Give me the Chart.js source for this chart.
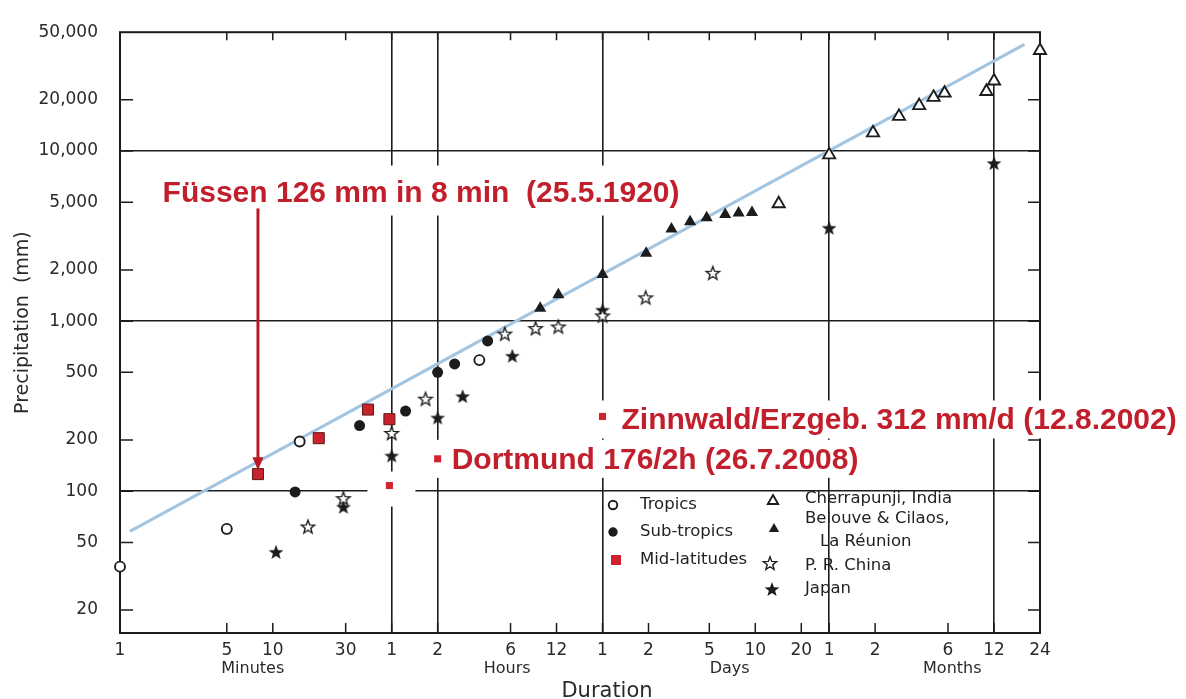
<!DOCTYPE html>
<html>
<head>
<meta charset="utf-8">
<title>World record precipitation by duration</title>
<script src="https://cdn.jsdelivr.net/npm/chart.js@4.4.1/dist/chart.umd.min.js"></script>
<style>
  html, body { margin: 0; padding: 0; background: #fff; }
  #chart { display: block; }
</style>
</head>
<body>
<canvas id="chart" width="1186" height="699"></canvas>
<script>
// durations are in minutes, amounts in mm
const HOUR = 60;
const DAY = 1440;
const MONTH = 43830;

const tropicsDuration = [1, 5, 15, 225];
const tropicsAmount = [36, 60, 196, 590];

const subtropicsDuration = [14, 37, 74, 2 * HOUR, 155, 255];
const subtropicsAmount = [99, 243, 296, 500, 560, 765];

const midlatDuration = [8, 20, 42, 58];
const midlatAmount = [126, 205, 302, 265];

// added German records (small squares)
const germanDuration = [58, 2 * HOUR, DAY];
const germanAmount = [108, 155, 275];

const cherrapunjiDuration = [20500, MONTH, 84900, 125600, 170200, 211500, 249700, 469000, 12 * MONTH, 24 * MONTH];
const cherrapunjiAmount = [4900, 9500, 12800, 16000, 18500, 20700, 21900, 22400, 25800, 39000];

const reunionDuration = [563, 740, DAY, 2780, 4070, 5390, 6920, 9150, 11200, 13700];
const reunionAmount = [1190, 1430, 1880, 2510, 3480, 3840, 4050, 4240, 4330, 4350];

const chinaDuration = [17, 29, 60, 100, 330, 525, 740, DAY, 2760, 7590];
const chinaAmount = [62, 91, 220, 350, 845, 910, 930, 1080, 1380, 1925];

const japanDuration = [10.5, 29, 60, 2 * HOUR, 175, 370, DAY, MONTH, 12 * MONTH];
const japanAmount = [44, 81, 162, 271, 362, 626, 1167, 3540, 8500];

const envelopeDuration = [1.16, 831800];
const envelopeAmount = [58, 42400];

const xTickValues = [1, 5, 10, 30, HOUR, 2 * HOUR, 6 * HOUR, 12 * HOUR, DAY, 2 * DAY, 5 * DAY, 10 * DAY, 20 * DAY, MONTH, 2 * MONTH, 6 * MONTH, 12 * MONTH, 24 * MONTH];
const xTickLabels = ["1", "5", "10", "30", "1", "2", "6", "12", "1", "2", "5", "10", "20", "1", "2", "6", "12", "24"];
const xGridValues = [HOUR, 2 * HOUR, DAY, MONTH, 12 * MONTH];
const unitLabels = ["Minutes", "Hours", "Days", "Months"];
const unitPositions = [7.4, 5.7 * HOUR, 6.8 * DAY, 6.4 * MONTH];

const yTickValues = [20, 50, 100, 200, 500, 1000, 2000, 5000, 10000, 20000, 50000];
const yTickLabels = ["20", "50", "100", "200", "500", "1,000", "2,000", "5,000", "10,000", "20,000", "50,000"];
const yGridValues = [100, 1000, 10000];

const fuessenNote = { text: "Füssen 126 mm in 8 min  (25.5.1920)", x: 1.9, y: 5050 };
const arrowFrom = { x: 8, y: 4600 };
const arrowTo = { x: 8, y: 133 };
const pointNotes = [
  { text: "Dortmund 176/2h (26.7.2008)", point: 1, dx: 14, dy: 10 },
  { text: "Zinnwald/Erzgeb. 312 mm/d (12.8.2002)", point: 2, dx: 19, dy: 13 },
];

const INK = "#1c1c1c";
const NOTE_RED = "#c21f2d";
const NOTE_FONT = "bold 30px 'Liberation Sans', Arial, sans-serif";
const GERMAN_INDEX = 4;

Chart.defaults.font.family = "'DejaVu Sans', sans-serif";
Chart.defaults.color = "#2a2a2a";

function toPoints(xs, ys) {
  return xs.map((x, i) => ({ x, y: ys[i] }));
}

function makeStar(radius, filled) {
  const size = Math.ceil(radius * 2 + 4);
  const canvas = document.createElement("canvas");
  canvas.width = size;
  canvas.height = size;
  const g = canvas.getContext("2d");
  const c = size / 2;
  g.beginPath();
  for (let i = 0; i < 10; i++) {
    const r = i % 2 === 0 ? radius : radius * 0.42;
    const a = -Math.PI / 2 + (i * Math.PI) / 5;
    const px = c + r * Math.cos(a);
    const py = c + 0.8 + r * Math.sin(a);
    if (i === 0) g.moveTo(px, py); else g.lineTo(px, py);
  }
  g.closePath();
  if (filled) {
    g.fillStyle = INK;
    g.fill();
  } else {
    g.fillStyle = "#fff";
    g.fill();
    g.lineWidth = 1.4;
    g.strokeStyle = INK;
    g.stroke();
  }
  return canvas;
}

const openStar = makeStar(7, false);
const solidStar = makeStar(7.8, true);

function marker(style, radius, fill, border, borderWidth) {
  return {
    pointStyle: style,
    pointRadius: radius,
    pointBackgroundColor: fill,
    pointBorderColor: border,
    pointBorderWidth: borderWidth,
    showLine: false,
    clip: false,
    order: 0,
  };
}

const datasets = [
  {
    label: "Envelope",
    data: toPoints(envelopeDuration, envelopeAmount),
    showLine: true,
    borderColor: "#a2c5e1",
    borderWidth: 3,
    pointRadius: 0,
    order: 1,
  },
  { label: "Tropics", data: toPoints(tropicsDuration, tropicsAmount), ...marker("circle", 5, "#fff", INK, 1.9) },
  { label: "Sub-tropics", data: toPoints(subtropicsDuration, subtropicsAmount), ...marker("circle", 5.5, INK, INK, 0) },
  { label: "Mid-latitudes", data: toPoints(midlatDuration, midlatAmount), ...marker("rect", 7.8, "#c8232c", "#5a1616", 1) },
  { label: "Germany", data: toPoints(germanDuration, germanAmount), ...marker("rect", 5, "#d3222d", "#d3222d", 0) },
  { label: "Cherrapunji, India", data: toPoints(cherrapunjiDuration, cherrapunjiAmount), ...marker("triangle", 7, "#fff", INK, 1.9) },
  { label: "Belouve & Cilaos,|La Réunion", data: toPoints(reunionDuration, reunionAmount), ...marker("triangle", 7, INK, INK, 0) },
  { label: "P. R. China", data: toPoints(chinaDuration, chinaAmount), ...marker(openStar, 7, "#fff", INK, 0) },
  { label: "Japan", data: toPoints(japanDuration, japanAmount), ...marker(solidStar, 8, INK, INK, 0) },
];

// legend: [dataset index, marker x, marker y, text x, text y]
const legendRows = [
  [1, 613, 505, 640, 505],
  [2, 613, 532, 640, 532],
  [3, 616, 560, 640, 560],
  [5, 773, 501, 805, 499],
  [6, 774, 529, 805, 519],
  [7, 770, 563, 805, 566],
  [8, 772, 589, 805, 589],
];

function noteLayout(chart) {
  const { ctx, scales } = chart;
  const german = chart.getDatasetMeta(GERMAN_INDEX).data;
  ctx.save();
  ctx.font = NOTE_FONT;
  const items = [];
  const fx = scales.x.getPixelForValue(fuessenNote.x);
  const fy = scales.y.getPixelForValue(fuessenNote.y);
  const fw = ctx.measureText(fuessenNote.text).width;
  items.push({ text: fuessenNote.text, x: fx, y: fy, box: [fx - 6, fy - 36, fx + fw + 8, fy + 14] });
  pointNotes.forEach((note) => {
    const p = german[note.point];
    const tx = p.x + note.dx;
    const ty = p.y + note.dy;
    const w = ctx.measureText(note.text).width;
    items.push({ text: note.text, x: tx, y: ty, box: [p.x - 10, ty - 29, tx + w + 8, ty + 9] });
  });
  const h = german[0];
  items.push({ text: "", box: [h.x - 22, h.y - 14, h.x + 26, h.y + 21] });
  ctx.restore();
  return items;
}

const paperPlugin = {
  id: "paper",
  beforeDatasetsDraw(chart) {
    const { ctx, chartArea: area, scales } = chart;
    ctx.save();
    ctx.strokeStyle = INK;
    ctx.lineWidth = 2;
    ctx.strokeRect(area.left, area.top, area.right - area.left, area.bottom - area.top);
    ctx.lineWidth = 1.5;
    ctx.beginPath();
    xTickValues.slice(1, -1).forEach((v) => {
      const px = scales.x.getPixelForValue(v);
      ctx.moveTo(px, area.bottom);
      ctx.lineTo(px, area.bottom - 10);
      ctx.moveTo(px, area.top);
      ctx.lineTo(px, area.top + 8);
    });
    yTickValues.slice(0, -1).forEach((v) => {
      const py = scales.y.getPixelForValue(v);
      ctx.moveTo(area.left, py);
      ctx.lineTo(area.left + 13, py);
      ctx.moveTo(area.right, py);
      ctx.lineTo(area.right - 12, py);
    });
    ctx.stroke();

    // paper cut-outs behind the added red labels
    ctx.fillStyle = "#fff";
    noteLayout(chart).forEach((item) => {
      const [l, t, r, b] = item.box;
      ctx.fillRect(l, t, r - l, b - t);
    });
    ctx.restore();
  },
  afterDatasetsDraw(chart) {
    const { ctx, chartArea: area, scales } = chart;
    ctx.save();

    // red annotations
    ctx.font = NOTE_FONT;
    ctx.fillStyle = NOTE_RED;
    ctx.textBaseline = "alphabetic";
    ctx.textAlign = "left";
    noteLayout(chart).forEach((item) => {
      if (item.text) ctx.fillText(item.text, item.x, item.y);
    });

    const ax = scales.x.getPixelForValue(arrowFrom.x);
    const ay = scales.y.getPixelForValue(arrowFrom.y);
    const tip = scales.y.getPixelForValue(arrowTo.y);
    ctx.strokeStyle = "#b81a24";
    ctx.fillStyle = "#b81a24";
    ctx.lineWidth = 3;
    ctx.beginPath();
    ctx.moveTo(ax, ay);
    ctx.lineTo(ax, tip - 10);
    ctx.stroke();
    ctx.beginPath();
    ctx.moveTo(ax, tip);
    ctx.lineTo(ax - 5.5, tip - 13);
    ctx.lineTo(ax + 5.5, tip - 13);
    ctx.closePath();
    ctx.fill();

    // legend
    ctx.font = "16.5px 'DejaVu Sans', sans-serif";
    ctx.textBaseline = "middle";
    legendRows.forEach(([index, mx, my, tx, ty]) => {
      const ds = chart.data.datasets[index];
      ctx.fillStyle = ds.pointBackgroundColor;
      ctx.strokeStyle = ds.pointBorderColor;
      ctx.lineWidth = ds.pointBorderWidth;
      const isMid = index === 3;
      if (isMid) {
        ctx.fillStyle = "#d3222d";
        ctx.fillRect(mx - 5, my - 5, 10, 10);
      } else {
        Chart.helpers.drawPoint(ctx, {
          pointStyle: ds.pointStyle,
          radius: ds.pointRadius * 0.85,
          rotation: 0,
          borderWidth: ds.pointBorderWidth,
        }, mx, my);
      }
      ctx.fillStyle = "#222";
      const lines = ds.label.split("|");
      ctx.fillText(lines[0], tx, ty);
      if (lines[1]) ctx.fillText(lines[1], tx + 15, ty + 23);
    });

    // unit names under the duration ticks
    ctx.fillStyle = "#2a2a2a";
    ctx.font = "16px 'DejaVu Sans', sans-serif";
    ctx.textAlign = "center";
    ctx.textBaseline = "alphabetic";
    unitLabels.forEach((label, i) => {
      ctx.fillText(label, scales.x.getPixelForValue(unitPositions[i]), area.bottom + 40);
    });

    // axis titles
    ctx.font = "21px 'DejaVu Sans', sans-serif";
    ctx.fillText("Duration", (area.left + area.right) / 2 + 27, 697);
    ctx.save();
    ctx.translate(28, (area.top + area.bottom) / 2 - 10);
    ctx.rotate(-Math.PI / 2);
    ctx.font = "19px 'DejaVu Sans', sans-serif";
    ctx.fillText("Precipitation  (mm)", 0, 0);
    ctx.restore();

    ctx.restore();
  },
};

new Chart(document.getElementById("chart"), {
  type: "scatter",
  data: { datasets },
  options: {
    responsive: false,
    animation: false,
    events: [],
    layout: { padding: { top: 24, right: 146, bottom: 0, left: 0 } },
    plugins: {
      legend: { display: false },
      tooltip: { enabled: false },
    },
    scales: {
      x: {
        type: "logarithmic",
        min: 1,
        max: 24 * MONTH,
        border: { display: false },
        grid: {
          drawTicks: false,
          lineWidth: 1.6,
          color: (ctx) => (ctx.tick && xGridValues.includes(ctx.tick.value) ? INK : "rgba(0,0,0,0)"),
        },
        ticks: {
          autoSkip: false,
          maxRotation: 0,
          padding: 7,
          font: { size: 17 },
          callback: (value, index) => xTickLabels[index],
        },
        afterBuildTicks: (scale) => {
          scale.ticks = xTickValues.map((value) => ({ value }));
        },
        afterFit: (scale) => {
          scale.height = 66;
        },
      },
      y: {
        type: "logarithmic",
        min: 14.66,
        max: 50000,
        border: { display: false },
        grid: {
          drawTicks: false,
          lineWidth: 1.6,
          color: (ctx) => (ctx.tick && yGridValues.includes(ctx.tick.value) ? INK : "rgba(0,0,0,0)"),
        },
        ticks: {
          autoSkip: false,
          padding: 22,
          font: { size: 17 },
          callback: (value, index) => yTickLabels[index],
        },
        afterBuildTicks: (scale) => {
          scale.ticks = yTickValues.map((value) => ({ value }));
        },
        afterFit: (scale) => {
          scale.width = 120;
        },
      },
    },
  },
  plugins: [paperPlugin],
});
</script>
</body>
</html>
